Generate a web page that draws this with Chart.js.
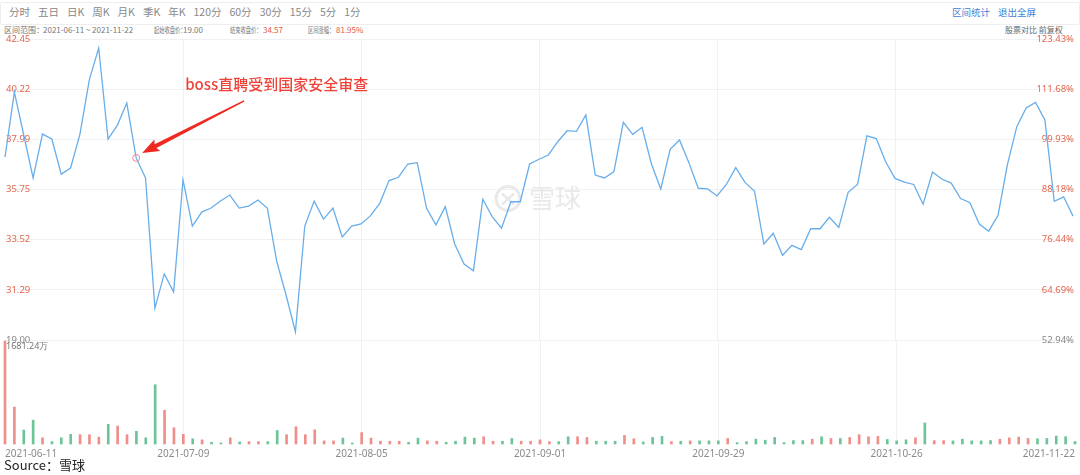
<!DOCTYPE html>
<html>
<head>
<meta charset="utf-8">
<script src="https://cdn.jsdelivr.net/npm/chart.js@4.4.0/dist/chart.umd.min.js"></script>
<style>
  body { margin: 0; width: 1080px; height: 475px; background: #fff; position: relative; overflow: hidden;
         font-family: "Noto Sans CJK SC", "Noto Sans", sans-serif; }
  .abs { position: absolute; white-space: nowrap; line-height: 1; }
  #toolbar { position: absolute; left: 0; top: 2px; width: 1078px; height: 21px; border: 1px solid #eee; border-radius: 2px; }
  #periods { position: absolute; left: 9px; top: 7px; display: flex; gap: 8px; font-size: 10.5px; color: #888; line-height: 1; }
  .info { font-size: 8px; color: #777; top: 26px; }
  .squash { transform: scaleX(0.66); transform-origin: left center; }
  .red { color: #e4573f; }
  .blue { color: #3f7fd6; font-size: 9.5px; top: 8px; }
  #priceChart { position: absolute; left: 0; top: 0; }
  #volChart { position: absolute; left: 0; top: 336px; }
  #source { left: 4px; top: 458px; font-size: 13px; color: #222; }
</style>
</head>
<body>
<div id="toolbar"></div>
<div id="periods"></div>
<span class="abs blue" style="left:952px">区间统计</span>
<span class="abs blue" style="left:998px">退出全屏</span>

<span class="abs info" style="left:4px">区间范围：</span>
<span class="abs info" style="left:43px">2021-06-11 ~ 2021-11-22</span>
<span class="abs info squash" style="left:154px">起始收盘价：</span>
<span class="abs info" style="left:183px">19.00</span>
<span class="abs info squash" style="left:230px">结束收盘价：</span>
<span class="abs info red" style="left:263px">34.57</span>
<span class="abs info squash" style="left:308px">区间涨幅：</span>
<span class="abs info red" style="left:336px">81.95%</span>
<span class="abs info" style="left:1005px;color:#666">股票对比 前复权</span>

<canvas id="priceChart" width="1080" height="345"></canvas>
<canvas id="volChart" width="1080" height="130"></canvas>
<span class="abs" id="source">Source：雪球</span>

<script>
// toolbar periods
const periods = ['分时', '五日', '日K', '周K', '月K', '季K', '年K', '120分', '60分', '30分', '15分', '5分', '1分'];

// trading days 2021-06-11 .. 2021-11-22
const tradingDays = {
  '2021-06': [11, 14, 15, 16, 17, 18, 21, 22, 23, 24, 25, 28, 29, 30],
  '2021-07': [1, 2, 6, 7, 8, 9, 12, 13, 14, 15, 16, 19, 20, 21, 22, 23, 26, 27, 28, 29, 30],
  '2021-08': [2, 3, 4, 5, 6, 9, 10, 11, 12, 13, 16, 17, 18, 19, 20, 23, 24, 25, 26, 27, 30, 31],
  '2021-09': [1, 2, 3, 7, 8, 9, 10, 13, 14, 15, 16, 17, 20, 21, 22, 23, 24, 27, 28, 29, 30],
  '2021-10': [1, 4, 5, 6, 7, 8, 11, 12, 13, 14, 15, 18, 19, 20, 21, 22, 25, 26, 27, 28, 29],
  '2021-11': [1, 2, 3, 4, 5, 8, 9, 10, 11, 12, 15, 16, 17, 18, 19, 22]
};
const dates = Object.entries(tradingDays).flatMap(([m, ds]) => ds.map(d => m + '-' + String(d).padStart(2, '0')));

const closePrices = [
  37.20, 40.09, 38.18, 36.27, 38.22, 38.00, 36.44, 36.71, 38.22, 40.63,
  42.05, 38.00, 38.62, 39.60, 37.16, 36.27, 30.48, 32.00, 31.20, 36.18,
  34.13, 34.75, 34.93, 35.24, 35.51, 34.93, 35.02, 35.29, 34.93, 32.57,
  31.06, 29.42, 34.13, 35.24, 34.44, 34.93, 33.64, 34.13, 34.22, 34.58,
  35.14, 36.15, 36.30, 36.89, 36.95, 34.92, 34.18, 34.99, 33.33, 32.44,
  32.14, 35.32, 34.55, 34.03, 35.21, 35.21, 36.89, 37.10, 37.29, 37.88,
  38.37, 38.34, 39.07, 36.40, 36.27, 36.55, 38.74, 38.21, 38.52, 36.89,
  35.78, 37.54, 37.96, 36.95, 35.81, 35.78, 35.47, 35.98, 36.73, 36.06,
  35.69, 33.33, 33.81, 32.83, 33.27, 33.08, 34.01, 34.01, 34.52, 34.07,
  35.63, 35.98, 38.14, 38.02, 36.99, 36.25, 36.08, 35.98, 35.10, 36.53,
  36.22, 36.04, 35.35, 35.17, 34.22, 33.90, 34.61, 36.86, 38.55, 39.38,
  39.63, 38.85, 35.23, 35.43, 34.57
];

// volume in 万股
const volumes = [
  1681.24, 604, 228, 389, 101, 39, 101, 158, 152, 152,
  113, 321, 293, 152, 208, 101, 968, 551, 265, 158,
  85, 68, 28, 17, 101, 34, 39, 39, 39, 220,
  152, 282, 152, 231, 51, 51, 96, 17, 186, 96,
  45, 45, 45, 28, 96, 51, 45, 28, 45, 113,
  96, 118, 45, 45, 90, 45, 45, 68, 39, 39,
  118, 118, 107, 45, 45, 45, 140, 85, 34, 107,
  124, 39, 45, 51, 51, 51, 51, 90, 23, 39,
  79, 62, 107, 23, 56, 56, 79, 118, 90, 90,
  107, 152, 118, 124, 73, 51, 68, 101, 344, 56,
  56, 51, 79, 51, 51, 56, 79, 101, 113, 90,
  85, 90, 130, 118, 40
];
// 1 = red (up day), 0 = green (down day)
const volumeUp = [
  1, 1, 0, 0, 1, 0, 0, 0, 1, 1,
  1, 0, 1, 1, 0, 0, 0, 1, 1, 1,
  0, 1, 0, 0, 1, 0, 1, 1, 0, 0,
  1, 1, 1, 1, 1, 1, 0, 0, 1, 1,
  1, 1, 1, 0, 0, 1, 1, 0, 0, 0,
  0, 1, 1, 0, 0, 1, 1, 1, 1, 0,
  0, 1, 1, 0, 0, 0, 1, 1, 0, 0,
  0, 1, 0, 1, 0, 0, 0, 1, 0, 0,
  0, 0, 0, 0, 0, 0, 1, 0, 1, 0,
  1, 1, 1, 1, 0, 0, 0, 1, 0, 1,
  1, 0, 0, 0, 0, 0, 1, 1, 1, 1,
  0, 0, 0, 0, 0
];

const priceTicks = [29.06, 31.29, 33.52, 35.75, 37.99, 40.22, 42.45];
const priceTickLabels = ['19.00', '31.29', '33.52', '35.75', '37.99', '40.22', '42.45'];
const pctTickLabels = ['52.94%', '64.69%', '76.44%', '88.18%', '99.93%', '111.68%', '123.43%'];
const xTickLabels = ['2021-06-11', '2021-07-09', '2021-08-05', '2021-09-01', '2021-09-29', '2021-10-26', '2021-11-22'];
const volMax = 1681.24;
const volMaxLabel = '1681.24万';
const annotDate = '2021-07-01';
const annotText = 'boss直聘受到国家安全审查';

document.getElementById('periods').innerHTML = periods.map(p => '<span>' + p + '</span>').join('');

const RED = '#e2674f';
const GRID = '#f1f1f1';
const annotIndex = dates.indexOf(annotDate);
const isGridDate = i => { const k = xTickLabels.indexOf(dates[i]); return k > 0 && k < xTickLabels.length - 1; };
const noPad = s => { s.paddingTop = 0; s.paddingBottom = 0; s.paddingLeft = 0; s.paddingRight = 0; };

const annotationPlugin = {
  id: 'annot',
  beforeDatasetsDraw(chart) {
    // watermark
    const { ctx, chartArea } = chart;
    const cx = (chartArea.left + chartArea.right) / 2, cy = (chartArea.top + chartArea.bottom) / 2 + 9;
    ctx.save();
    ctx.strokeStyle = '#e9e9e9';
    ctx.fillStyle = '#e9e9e9';
    ctx.lineWidth = 3;
    ctx.beginPath();
    ctx.arc(cx - 31, cy, 12, 0, Math.PI * 2);
    ctx.stroke();
    ctx.lineWidth = 2.5;
    ctx.beginPath();
    ctx.moveTo(cx - 37, cy - 5); ctx.lineTo(cx - 25, cy + 6);
    ctx.moveTo(cx - 25, cy - 5); ctx.lineTo(cx - 37, cy + 6);
    ctx.stroke();
    ctx.font = '26px "Noto Sans CJK SC"';
    ctx.textBaseline = 'middle';
    ctx.fillText('雪球', cx - 10, cy);
    ctx.restore();
  },
  afterDatasetsDraw(chart) {
    const { ctx } = chart;
    const p = chart.getDatasetMeta(0).data[annotIndex];
    const tipX = p.x + 6, tipY = p.y - 5;
    const tailX = tipX + 102, tailY = tipY - 52;
    ctx.save();
    ctx.translate(tailX, tailY);
    const ang = Math.atan2(tipY - tailY, tipX - tailX);
    const len = Math.hypot(tipX - tailX, tipY - tailY);
    ctx.rotate(ang);
    ctx.fillStyle = '#f02a20';
    ctx.beginPath();
    ctx.moveTo(0, -0.7);
    ctx.lineTo(len - 15, -2);
    ctx.lineTo(len - 17, -6.5);
    ctx.lineTo(len, 0);
    ctx.lineTo(len - 17, 6.5);
    ctx.lineTo(len - 15, 2);
    ctx.lineTo(0, 0.7);
    ctx.closePath();
    ctx.fill();
    ctx.restore();

    ctx.save();
    ctx.font = '500 15px "Noto Sans CJK SC"';
    ctx.fillStyle = '#ee4338';
    ctx.textBaseline = 'middle';
    ctx.fillText(annotText, tailX - 59, tailY - 17);
    ctx.restore();
  }
};

new Chart(document.getElementById('priceChart'), {
  type: 'line',
  data: {
    labels: dates,
    datasets: [{
      data: closePrices,
      borderColor: '#68aeea',
      borderWidth: 1.3,
      tension: 0,
      pointRadius: c => c.dataIndex === annotIndex ? 3.5 : 0,
      pointBorderColor: '#ee8a8a',
      pointBackgroundColor: 'rgba(255,255,255,0)',
      pointBorderWidth: 1,
      clip: false
    }]
  },
  options: {
    responsive: false,
    animation: false,
    layout: { padding: { top: 39, left: 3, right: 5, bottom: 5 } },
    plugins: { legend: { display: false }, tooltip: { enabled: false } },
    scales: {
      x: {
        ticks: { display: false },
        grid: { color: c => isGridDate(c.index) ? GRID : 'rgba(0,0,0,0)', drawTicks: false },
        border: { display: false }
      },
      y: {
        position: 'left',
        min: priceTicks[0],
        max: priceTicks[priceTicks.length - 1],
        afterBuildTicks: s => { s.ticks = priceTicks.map(v => ({ value: v })); },
        afterFit: noPad,
        ticks: {
          mirror: true,
          padding: 1,
          color: c => c.index === 0 ? '#888' : RED,
          font: { family: 'Noto Sans', size: 9.5 },
          callback: (v, i) => priceTickLabels[i]
        },
        grid: { color: GRID, drawTicks: false },
        border: { display: false }
      },
      y2: {
        position: 'right',
        min: priceTicks[0],
        max: priceTicks[priceTicks.length - 1],
        afterBuildTicks: s => { s.ticks = priceTicks.map(v => ({ value: v })); },
        afterFit: noPad,
        ticks: {
          mirror: true,
          padding: 1,
          color: c => c.index === 0 ? '#888' : RED,
          font: { family: 'Noto Sans', size: 9.5 },
          callback: (v, i) => pctTickLabels[i]
        },
        grid: { display: false, drawTicks: false },
        border: { display: false }
      }
    }
  },
  plugins: [annotationPlugin]
});

new Chart(document.getElementById('volChart'), {
  type: 'bar',
  data: {
    labels: dates,
    datasets: [{
      data: volumes,
      backgroundColor: volumeUp.map(u => u ? '#ef8f8a' : '#6cc497'),
      barThickness: 2,
      clip: false
    }]
  },
  options: {
    responsive: false,
    animation: false,
    layout: { padding: { top: 5, left: 3, right: 5, bottom: 2 } },
    plugins: { legend: { display: false }, tooltip: { enabled: false } },
    scales: {
      x: {
        offset: false,
        ticks: {
          autoSkip: false,
          maxRotation: 0,
          align: 'inner',
          padding: 4,
          color: '#8a8a8a',
          font: { family: 'Noto Sans', size: 10 },
          callback: (v, i) => xTickLabels.includes(dates[i]) ? dates[i] : ''
        },
        grid: { offset: false, color: c => isGridDate(c.index) ? GRID : 'rgba(0,0,0,0)', drawTicks: false },
        border: { display: false }
      },
      y: {
        min: 0,
        max: volMax,
        afterBuildTicks: s => { s.ticks = [{ value: volMax }]; },
        afterFit: noPad,
        ticks: {
          mirror: true,
          padding: 1,
          labelOffset: 5,
          color: '#777',
          font: { family: 'Noto Sans', size: 9 },
          callback: () => volMaxLabel
        },
        grid: { display: false, drawTicks: false },
        border: { display: false }
      }
    }
  }
});
</script>
</body>
</html>
